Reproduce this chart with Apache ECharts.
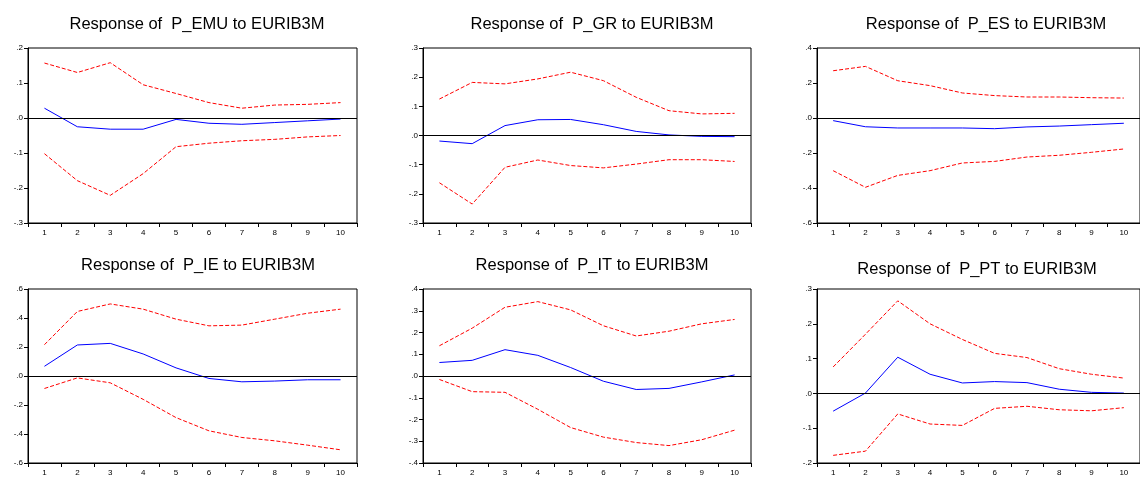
<!DOCTYPE html>
<html>
<head>
<meta charset="utf-8">
<script src="https://cdn.jsdelivr.net/npm/echarts/dist/echarts.min.js"></script>
<style>
html,body{margin:0;padding:0;background:#fff;}
#c{width:1140px;height:477px;}
</style>
</head>
<body>
<div id="c"></div>
<script>
const periods = ['1','2','3','4','5','6','7','8','9','10'];

const titles = [
  'Response of  P_EMU to EURIB3M',
  'Response of  P_GR to EURIB3M',
  'Response of  P_ES to EURIB3M',
  'Response of  P_IE to EURIB3M',
  'Response of  P_IT to EURIB3M',
  'Response of  P_PT to EURIB3M'
];

// y-axis ranges [min, max, interval]
const yRanges = [
  [-0.3, 0.2, 0.1],
  [-0.3, 0.3, 0.1],
  [-0.6, 0.4, 0.2],
  [-0.6, 0.6, 0.2],
  [-0.4, 0.4, 0.1],
  [-0.2, 0.3, 0.1]
];

// P_EMU
const emuResp  = [0.028, -0.025, -0.032, -0.032, -0.004, -0.015, -0.018, -0.013, -0.008, -0.003];
const emuUpper = [0.157, 0.130, 0.158, 0.095, 0.070, 0.044, 0.028, 0.037, 0.039, 0.044];
const emuLower = [-0.102, -0.179, -0.221, -0.159, -0.082, -0.072, -0.065, -0.061, -0.054, -0.050];

// P_GR
const grResp  = [-0.019, -0.028, 0.034, 0.054, 0.055, 0.037, 0.014, 0.002, -0.003, -0.004];
const grUpper = [0.125, 0.182, 0.177, 0.194, 0.217, 0.188, 0.131, 0.085, 0.074, 0.076];
const grLower = [-0.162, -0.235, -0.109, -0.084, -0.103, -0.111, -0.098, -0.083, -0.083, -0.089];

// P_ES
const esResp  = [-0.015, -0.050, -0.057, -0.057, -0.057, -0.061, -0.051, -0.046, -0.038, -0.030];
const esUpper = [0.270, 0.295, 0.213, 0.185, 0.143, 0.128, 0.120, 0.120, 0.116, 0.114];
const esLower = [-0.301, -0.396, -0.328, -0.301, -0.257, -0.248, -0.223, -0.213, -0.196, -0.177];

// P_IE
const ieResp  = [0.067, 0.214, 0.225, 0.152, 0.056, -0.017, -0.040, -0.035, -0.026, -0.026];
const ieUpper = [0.216, 0.445, 0.497, 0.461, 0.392, 0.346, 0.351, 0.392, 0.433, 0.461];
const ieLower = [-0.086, -0.013, -0.047, -0.161, -0.287, -0.378, -0.424, -0.447, -0.477, -0.509];

// P_IT
const itResp  = [0.062, 0.072, 0.121, 0.095, 0.039, -0.024, -0.062, -0.057, -0.027, 0.005];
const itUpper = [0.139, 0.220, 0.316, 0.342, 0.304, 0.231, 0.184, 0.206, 0.240, 0.260];
const itLower = [-0.016, -0.072, -0.075, -0.153, -0.237, -0.281, -0.306, -0.320, -0.293, -0.249];

// P_PT
const ptResp  = [-0.051, 0.001, 0.104, 0.055, 0.030, 0.034, 0.031, 0.012, 0.003, 0.001];
const ptUpper = [0.076, 0.170, 0.266, 0.200, 0.155, 0.115, 0.103, 0.071, 0.055, 0.044];
const ptLower = [-0.178, -0.166, -0.059, -0.088, -0.092, -0.043, -0.037, -0.047, -0.050, -0.041];

const panels = [
  [emuResp, emuUpper, emuLower],
  [grResp, grUpper, grLower],
  [esResp, esUpper, esLower],
  [ieResp, ieUpper, ieLower],
  [itResp, itUpper, itLower],
  [ptResp, ptUpper, ptLower]
];

// layout
const gridPos = [
  {left: 28,  top: 48,  width: 329, height: 175},
  {left: 423, top: 48,  width: 328, height: 175},
  {left: 817, top: 48,  width: 328, height: 175},
  {left: 28,  top: 289, width: 329, height: 175},
  {left: 423, top: 289, width: 328, height: 175},
  {left: 817, top: 289, width: 328, height: 175}
];
const titlePos = [
  {x: 192, y: 11}, {x: 587, y: 11}, {x: 981, y: 11},
  {x: 193, y: 252}, {x: 587, y: 252}, {x: 972, y: 256}
];

const FONT = '"Liberation Sans", Arial, sans-serif';
const fmt = v => {
  let s = (Math.round(v * 10) / 10).toFixed(1);
  if (s === '-0.0') s = '0.0';
  return s.replace('0.', '.');
};

const option = {
  animation: false,
  backgroundColor: '#fff',
  title: titles.map((t, i) => ({
    text: t,
    left: titlePos[i].x,
    top: titlePos[i].y,
    textAlign: 'center',
    textStyle: {fontFamily: FONT, fontSize: 16.5, fontWeight: 'normal', color: '#000'}
  })),
  grid: gridPos.map(g => Object.assign({
    show: true, borderColor: '#000', borderWidth: 1, backgroundColor: 'transparent', containLabel: false
  }, g)),
  xAxis: gridPos.map((g, i) => ({
    type: 'category',
    gridIndex: i,
    data: periods,
    boundaryGap: true,
    axisLine: {show: true, onZero: false, lineStyle: {color: '#000', width: 1}},
    axisTick: {show: true, inside: false, length: 4, alignWithLabel: false, lineStyle: {color: '#000'}},
    axisLabel: {fontFamily: FONT, fontSize: 8, color: '#000', margin: 6},
    splitLine: {show: false}
  })),
  yAxis: yRanges.map((r, i) => ({
    type: 'value',
    gridIndex: i,
    min: r[0], max: r[1], interval: r[2],
    axisLine: {show: true, onZero: false, lineStyle: {color: '#000', width: 1}},
    axisTick: {show: true, inside: false, length: 4, lineStyle: {color: '#000'}},
    axisLabel: {fontFamily: FONT, fontSize: 8, color: '#000', margin: 5, formatter: fmt},
    splitLine: {show: false}
  })),
  series: []
};

panels.forEach((p, i) => {
  option.series.push({
    type: 'line', xAxisIndex: i, yAxisIndex: i, data: p[1],
    symbol: 'none', lineStyle: {color: '#ff0000', width: 1, type: [4, 2]}, z: 3
  });
  option.series.push({
    type: 'line', xAxisIndex: i, yAxisIndex: i, data: p[2],
    symbol: 'none', lineStyle: {color: '#ff0000', width: 1, type: [4, 2]}, z: 3
  });
  option.series.push({
    type: 'line', xAxisIndex: i, yAxisIndex: i, data: p[0],
    symbol: 'none', lineStyle: {color: '#0000ff', width: 1}, z: 4,
    markLine: {
      silent: true, symbol: 'none', label: {show: false},
      lineStyle: {color: '#000', type: 'solid', width: 1},
      data: [{yAxis: 0}]
    }
  });
});

const chart = echarts.init(document.getElementById('c'), null, {renderer: 'canvas'});
chart.setOption(option);
</script>
</body>
</html>
